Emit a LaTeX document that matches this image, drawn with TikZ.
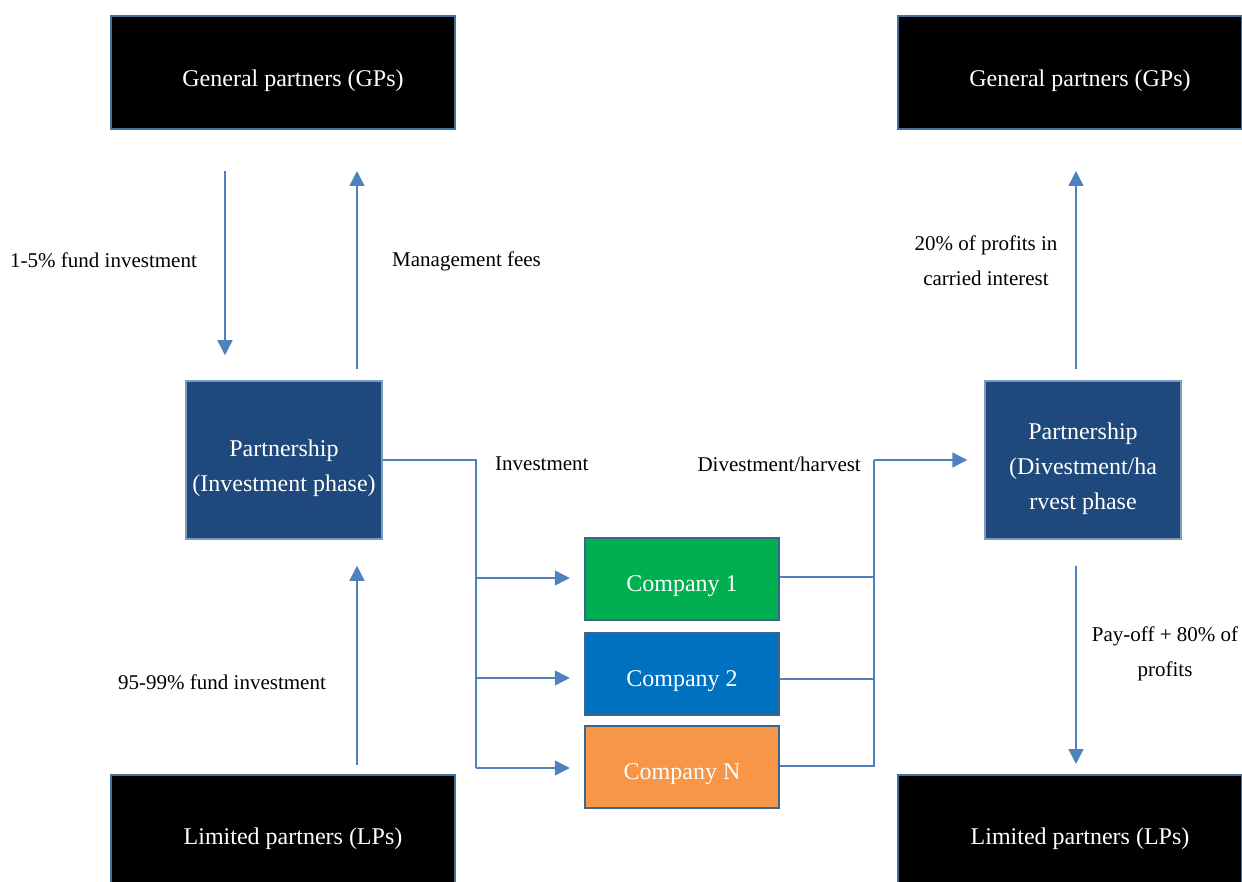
\documentclass[tikz,border=0pt]{standalone}
\usepackage{fontspec}
\setmainfont{Liberation Serif}
\usetikzlibrary{arrows.meta}
\definecolor{arrblue}{HTML}{4F81BD}
\definecolor{edgeblue}{HTML}{41719C}
\definecolor{navy}{HTML}{1F497D}
\definecolor{cgreen}{HTML}{00B050}
\definecolor{cblue}{HTML}{0070C0}
\definecolor{corange}{HTML}{F79646}
\newcommand{\lowered}[2]{\raisebox{-#1}[\height][\depth]{\begin{tabular}{@{}c@{}}#2\end{tabular}}}
\tikzset{
  partybox/.style={draw=edgeblue, fill=black, line width=2pt, minimum width=344pt, minimum height=113pt, text=white, font=\fontsize{24}{35}\selectfont},
  phasebox/.style={draw=edgeblue!70, fill=navy, line width=1.5pt, minimum width=196pt, minimum height=158pt, text=white, align=center, font=\fontsize{24}{35}\selectfont},
  compbox/.style={draw=edgeblue!90!black, line width=2.5pt, minimum width=194pt, minimum height=82pt, text=white, font=\fontsize{24}{35}\selectfont},
  lbl/.style={font=\fontsize{21}{35}\selectfont, align=center, inner sep=0pt},
  conn/.style={draw=arrblue, line width=1.5pt},
  arr/.style={conn, -{Triangle[length=15pt,width=15pt]}}
}
\begin{document}
\begin{tikzpicture}[x=1pt,y=-1pt]
\useasboundingbox (0,0) rectangle (1242,882);
% parties
\node[partybox] (gpL) at (283,72.5) {\lowered{7pt}{\hspace*{20pt}General partners (GPs)}};
\node[partybox] (gpR) at (1070,72.5) {\lowered{7pt}{\hspace*{20pt}General partners (GPs)}};
\node[partybox] (lpL) at (283,831.5) {\lowered{6pt}{\hspace*{20pt}Limited partners (LPs)}};
\node[partybox] (lpR) at (1070,831.5) {\lowered{6pt}{\hspace*{20pt}Limited partners (LPs)}};
% partnerships
\node[phasebox] (pL) at (284,460) {\lowered{7pt}{Partnership\\(Investment phase)}};
\node[phasebox] (pR) at (1083,460) {\lowered{7pt}{Partnership\\(Divestment/ha\\rvest phase}};
% companies
\node[compbox, fill=cgreen] (c1) at (682,579) {\lowered{5pt}{Company 1}};
\node[compbox, fill=cblue] (c2) at (682,674) {\lowered{5pt}{Company 2}};
\node[compbox, fill=corange] (c3) at (682,767) {\lowered{5pt}{Company N}};
% left vertical arrows
\draw[arr] ([xshift=-58pt,yshift=-41pt]gpL.south) -- ([xshift=-59pt,yshift=25pt]pL.north);
\draw[arr] ([xshift=73pt,yshift=11pt]pL.north) -- ([xshift=74pt,yshift=-41pt]gpL.south);
\draw[arr] ([xshift=74pt,yshift=9pt]lpL.north) -- ([xshift=73pt,yshift=-26pt]pL.south);
% right vertical arrows
\draw[arr] ([xshift=-7pt,yshift=11pt]pR.north) -- ([xshift=6pt,yshift=-41pt]gpR.south);
\draw[arr] ([xshift=-7pt,yshift=-26pt]pR.south) -- ([xshift=6pt,yshift=10pt]lpR.north);
% investment bus
\coordinate (invbus) at (476,460);
\draw[conn] (pL.east) -- (invbus) -- ([yshift=-1pt]invbus |- c3.west);
\draw[arr, shorten >=14pt] ([yshift=1pt]invbus |- c1.west) -- ([yshift=1pt]c1.west);
\draw[arr, shorten >=14pt] ([yshift=-4pt]invbus |- c2.west) -- ([yshift=-4pt]c2.west);
\draw[arr, shorten >=14pt] ([yshift=-1pt]invbus |- c3.west) -- ([yshift=-1pt]c3.west);
% divestment bus
\coordinate (divbus) at (874,460);
\draw[conn] ([yshift=2pt]c1.east) -- ([yshift=2pt]c1.east -| divbus);
\draw[conn] ([yshift=-5pt]c2.east) -- ([yshift=-5pt]c2.east -| divbus);
\draw[conn] ([yshift=1pt]c3.east) -- ([yshift=1pt]c3.east -| divbus) -- (divbus);
\draw[arr, shorten >=17pt] (divbus) -- (pR.west);
% labels
\node[lbl, anchor=west] (l1) at (10,260) {1-5\% fund investment};
\node[lbl, anchor=west] (l2) at (392,261) {Management fees};
\node[lbl, anchor=west] (l3) at (118,682) {95-99\% fund investment};
\node[lbl, anchor=west] (l4) at (495,464) {Investment};
\node[lbl, anchor=east] (l5) at (861,464) {Divestment/harvest};
\node[lbl] (l6) at (986,261) {20\% of profits in\\carried interest};
\node[lbl] (l7) at (1165,654) {Pay-off + 80\% of\\profits};
\end{tikzpicture}
\end{document}
